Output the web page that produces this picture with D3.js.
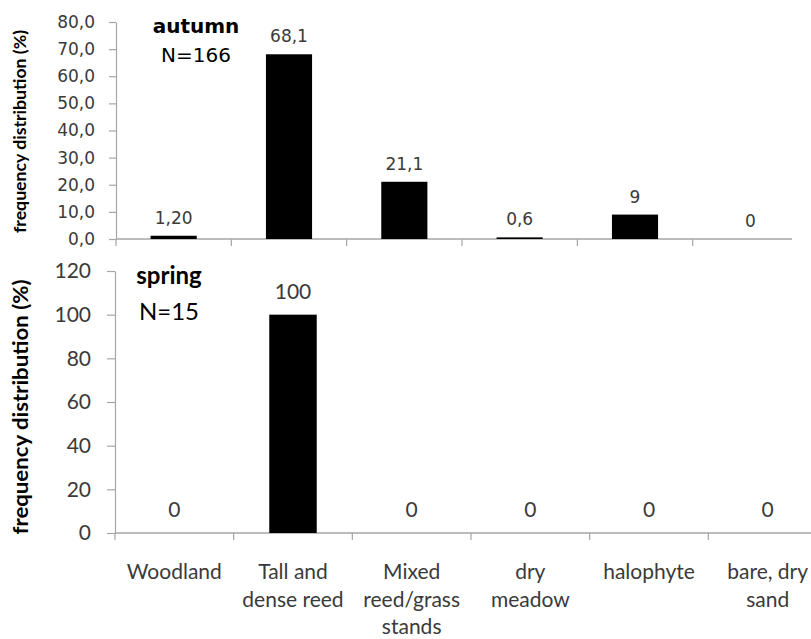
<!DOCTYPE html>
<html>
<head>
<meta charset="utf-8">
<script src="https://cdn.jsdelivr.net/npm/d3@7"></script>
<style>
  html, body { margin: 0; padding: 0; background: #fff; }
  svg { display: block; }
</style>
</head>
<body>
<svg id="chart" width="811" height="639"></svg>
<script>
// ---- Data ----
const categories = ["Woodland", "Tall and dense reed", "Mixed reed/grass stands", "dry meadow", "halophyte", "bare, dry sand"];
const categoryLines = [["Woodland"], ["Tall and", "dense reed"], ["Mixed", "reed/grass", "stands"], ["dry", "meadow"], ["halophyte"], ["bare, dry", "sand"]];
const autumnValues = [1.2, 68.1, 21.1, 0.6, 9, 0];
const autumnLabels = ["1,20", "68,1", "21,1", "0,6", "9", "0"];
const springValues = [0, 100, 0, 0, 0, 0];
const springLabels = ["0", "100", "0", "0", "0", "0"];
const autumnTicks = [0, 10, 20, 30, 40, 50, 60, 70, 80];
const autumnTickLabels = ["0,0", "10,0", "20,0", "30,0", "40,0", "50,0", "60,0", "70,0", "80,0"];
const springTicks = [0, 20, 40, 60, 80, 100, 120];
const springTickLabels = ["0", "20", "40", "60", "80", "100", "120"];
const autumnTitle = ["autumn", "N=166"];
const springTitle = ["spring", "N=15"];
const yTitle = "frequency distribution (%)";

// ---- Drawing ----
const svg = d3.select("#chart");
const textCol = "#3a3a3a";
const axisCol = "#a6a6a6";

function panel(cfg) {
  const g = svg.append("g");
  const x = d3.scaleBand().domain(categories).range([cfg.x0, cfg.x1]).paddingInner(0).paddingOuter(0);
  const y = d3.scaleLinear().domain([0, cfg.ymax]).range([cfg.yBottom, cfg.yTop]);

  // y axis
  const yAxis = d3.axisLeft(y).tickValues(cfg.ticks)
    .tickFormat((d, i) => cfg.tickLabels[i])
    .tickSize(cfg.tickSize).tickSizeOuter(0).tickPadding(cfg.tickPad);
  const ya = g.append("g").attr("transform", `translate(${cfg.x0},0)`).call(yAxis);
  ya.select(".domain").attr("stroke", axisCol).attr("stroke-width", 1.2);
  ya.selectAll(".tick line").attr("stroke", axisCol).attr("stroke-width", 1.2);
  ya.selectAll(".tick text").attr("fill", textCol)
    .style("font-family", cfg.tickFont).style("font-size", cfg.tickFontSize + "px");

  // x axis line
  g.append("line").attr("x1", cfg.x0).attr("x2", cfg.xLineEnd)
    .attr("y1", y(0)).attr("y2", y(0)).attr("stroke", axisCol).attr("stroke-width", 1.4);
  // x tick marks at band boundaries
  const bounds = categories.map(c => x(c)).concat([x.range()[1]]);
  g.selectAll(".xt").data(bounds.filter(b => b <= cfg.xLineEnd)).enter().append("line")
    .attr("x1", d => d).attr("x2", d => d)
    .attr("y1", y(0)).attr("y2", y(0) + 7)
    .attr("stroke", axisCol).attr("stroke-width", 1.2);

  // bars
  const bw = x.bandwidth() * 0.4;
  g.selectAll(".bar").data(cfg.values).enter().append("rect")
    .attr("x", (d, i) => x(categories[i]) + (x.bandwidth() - bw) / 2)
    .attr("width", bw)
    .attr("y", d => y(d))
    .attr("height", d => y(0) - y(d))
    .attr("fill", "#000");

  // value labels
  g.selectAll(".vl").data(cfg.values).enter().append("text")
    .attr("x", (d, i) => x(categories[i]) + x.bandwidth() / 2)
    .attr("y", d => y(d) - cfg.labelOff)
    .attr("text-anchor", "middle")
    .attr("fill", textCol)
    .style("font-family", cfg.valueFont).style("font-size", cfg.valueFontSize + "px")
    .text((d, i) => cfg.labels[i]);

  // y title
  const cy = (cfg.yTop + cfg.yBottom) / 2 + cfg.titleShift;
  g.append("text")
    .attr("transform", `translate(${cfg.titleX},${cy}) rotate(-90)`)
    .attr("text-anchor", "middle")
    .attr("fill", "#000")
    .attr("textLength", cfg.titleLen).attr("lengthAdjust", "spacingAndGlyphs")
    .style("font-family", "Lato, sans-serif").style("font-weight", "bold")
    .style("font-size", cfg.titleSize + "px")
    .text(yTitle);

  // annotation
  g.append("text").attr("x", cfg.annX).attr("y", cfg.annY1).attr("text-anchor", "middle")
    .attr("fill", "#000").style("font-family", cfg.annFont).style("font-weight", "bold")
    .style("font-size", cfg.annSize + "px").text(cfg.ann[0]);
  g.append("text").attr("x", cfg.annX).attr("y", cfg.annY2).attr("text-anchor", "middle")
    .attr("fill", "#000").style("font-family", cfg.annFont)
    .style("font-size", cfg.annSize + "px").text(cfg.ann[1]);

  return { x, y };
}

// Autumn (top)
panel({
  x0: 116, x1: 808, xLineEnd: 792, yTop: 22, yBottom: 239, ymax: 80,
  ticks: autumnTicks, tickLabels: autumnTickLabels, tickSize: 7, tickPad: 14,
  tickFont: "'DejaVu Sans', sans-serif", tickFontSize: 17,
  values: autumnValues, labels: autumnLabels, labelOff: 12,
  valueFont: "'DejaVu Sans', sans-serif", valueFontSize: 17,
  titleX: 26, titleShift: 1, titleLen: 203, titleSize: 17,
  ann: autumnTitle, annX: 196, annY1: 33, annY2: 62,
  annFont: "'DejaVu Sans', sans-serif", annSize: 20
});

// Spring (bottom)
const sp = panel({
  x0: 115, x1: 827, xLineEnd: 811, yTop: 271, yBottom: 533, ymax: 120,
  ticks: springTicks, tickLabels: springTickLabels, tickSize: 8, tickPad: 16,
  tickFont: "Lato, sans-serif", tickFontSize: 21,
  values: springValues, labels: springLabels, labelOff: 16,
  valueFont: "Lato, sans-serif", valueFontSize: 21,
  titleX: 28, titleShift: 5, titleLen: 255, titleSize: 21,
  ann: springTitle, annX: 169, annY1: 284, annY2: 320,
  annFont: "Lato, sans-serif", annSize: 24
});

// Category labels (bottom axis)
const cat = svg.append("g");
categoryLines.forEach((lines, i) => {
  const cx = sp.x(categories[i]) + sp.x.bandwidth() / 2;
  const t = cat.append("text").attr("text-anchor", "middle").attr("fill", textCol)
    .style("font-family", "Lato, sans-serif").style("font-size", "21px");
  lines.forEach((ln, j) => {
    t.append("tspan").attr("x", cx).attr("y", 579 + j * 27.5).text(ln);
  });
});
</script>
</body>
</html>
